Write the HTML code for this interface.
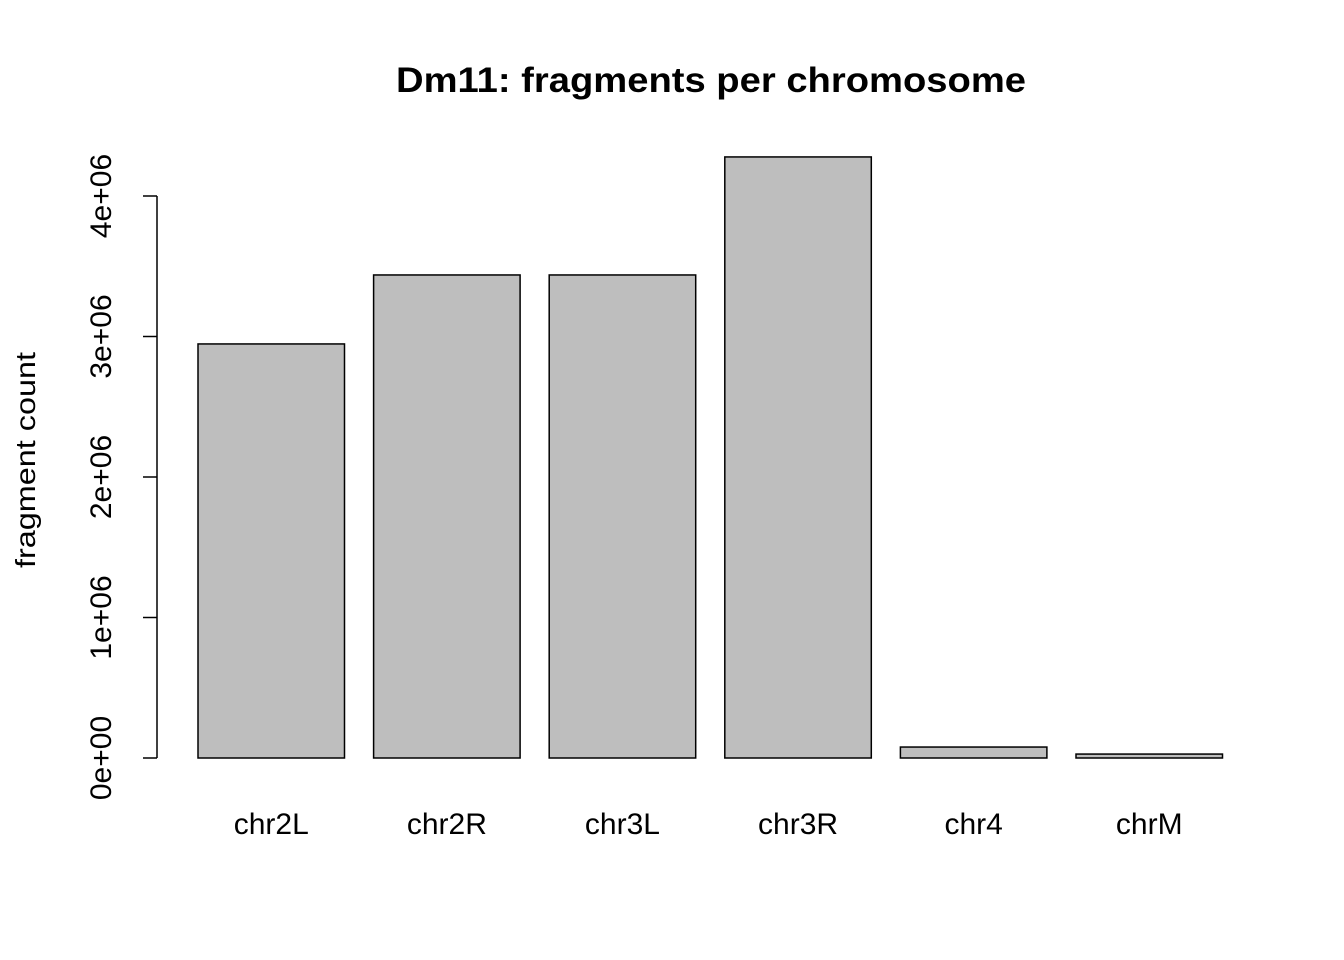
<!DOCTYPE html>
<html><head><meta charset="utf-8"><style>
body{margin:0;background:#fff}
svg{display:block;font-family:"Liberation Sans",Arial,sans-serif}
</style></head><body>
<svg id="chart" width="1344" height="960">
<text x="711" y="92" text-anchor="middle" font-size="35" font-weight="bold" textLength="630" lengthAdjust="spacingAndGlyphs">Dm11: fragments per chromosome</text>
<text transform="translate(35,460) rotate(-90)" text-anchor="middle" font-size="28" textLength="216" lengthAdjust="spacingAndGlyphs">fragment count</text>
<g id="bars"></g><g id="yaxis"></g><g id="xlabels"></g>
</svg>
<script>
const categories = ["chr2L","chr2R","chr3L","chr3R","chr4","chrM"];
const values = [2947000,3438000,3438000,4278000,78000,28000];
const yTicks = [0,1000000,2000000,3000000,4000000];
const yTickLabels = ["0e+00","1e+06","2e+06","3e+06","4e+06"];
const NS="http://www.w3.org/2000/svg";
function y(v){return 758 - v/1e6*140.5;}
function x(i){return 198 + i*175.6;}
const bw=146.5;
const bars=document.getElementById('bars');
values.forEach((v,i)=>{
  const r=document.createElementNS(NS,'rect');
  r.setAttribute('x',x(i));r.setAttribute('y',y(v));
  r.setAttribute('width',bw);r.setAttribute('height',Math.max(0,758-y(v)));
  r.setAttribute('fill','#bebebe');r.setAttribute('stroke','#000');r.setAttribute('stroke-width','1.5');
  
  
  bars.appendChild(r);
  const t=document.createElementNS(NS,'text');
  t.setAttribute('x',x(i)+bw/2);t.setAttribute('y',834);
  t.setAttribute('text-anchor','middle');t.setAttribute('font-size','30');
  t.textContent=categories[i];
  
  
  document.getElementById('xlabels').appendChild(t);
});
const ya=document.getElementById('yaxis');
const ln=document.createElementNS(NS,'line');
ln.setAttribute('x1',157);ln.setAttribute('x2',157);
ln.setAttribute('y1',y(yTicks[0]));ln.setAttribute('y2',y(yTicks[yTicks.length-1]));
ln.setAttribute('stroke','#000');ln.setAttribute('stroke-width','1.5');


ya.appendChild(ln);
yTicks.forEach((v,i)=>{
  const tk=document.createElementNS(NS,'line');
  tk.setAttribute('x1',143);tk.setAttribute('x2',157);
  tk.setAttribute('y1',y(v));tk.setAttribute('y2',y(v));
  tk.setAttribute('stroke','#000');tk.setAttribute('stroke-width','1.5');
  
  
  ya.appendChild(tk);
  const t=document.createElementNS(NS,'text');
  t.setAttribute('transform','translate(111,'+y(v)+') rotate(-90)');
  t.setAttribute('text-anchor','middle');t.setAttribute('font-size','30');
  t.textContent=yTickLabels[i];
  
  
  ya.appendChild(t);
});
</script>
</body></html>
